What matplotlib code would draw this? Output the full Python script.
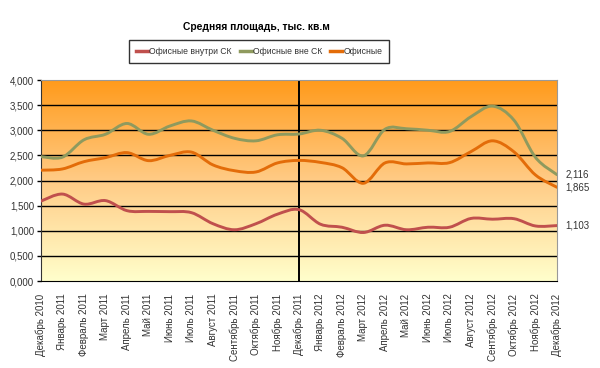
import numpy as np
import matplotlib
matplotlib.use("Agg")
import matplotlib.pyplot as plt
from matplotlib.path import Path
from matplotlib.patches import PathPatch
from matplotlib.lines import Line2D
from matplotlib.colors import LinearSegmentedColormap

plt.rcParams["font.family"] = ["Liberation Sans", "DejaVu Sans"]

months = [
    "Декабрь 2010", "Январь 2011", "Февраль 2011", "Март 2011", "Апрель 2011",
    "Май 2011", "Июнь 2011", "Июль 2011", "Август 2011", "Сентябрь 2011",
    "Октябрь 2011", "Ноябрь 2011", "Декабрь 2011", "Январь 2012", "Февраль 2012",
    "Март 2012", "Апрель 2012", "Май 2012", "Июнь 2012", "Июль 2012",
    "Август 2012", "Сентябрь 2012", "Октябрь 2012", "Ноябрь 2012", "Декабрь 2012",
]

inside_sk = [1590, 1730, 1530, 1600, 1400, 1385, 1380, 1360, 1140, 1020,
             1140, 1330, 1420, 1130, 1070, 965, 1110, 1020, 1070, 1070,
             1245, 1230, 1240, 1095, 1103]
outside_sk = [2475, 2465, 2810, 2920, 3135, 2920, 3085, 3185, 3000, 2840,
              2790, 2910, 2925, 3000, 2840, 2490, 3020, 3030, 3000, 2975,
              3270, 3480, 3200, 2460, 2116]
offices = [2205, 2230, 2375, 2455, 2555, 2395, 2500, 2565, 2310, 2195,
           2170, 2350, 2400, 2360, 2255, 1945, 2350, 2330, 2350, 2355,
           2575, 2790, 2570, 2110, 1865]

y_ticks = [0, 500, 1000, 1500, 2000, 2500, 3000, 3500, 4000]
y_labels = ["0,000", "0,500", "1,000", "1,500", "2,000", "2,500", "3,000", "3,500", "4,000"]

series = [
    ("Офисные внутри СК", inside_sk, "#C0504D", "1,103"),
    ("Офисные вне СК", outside_sk, "#8F9A5E", "2,116"),
    ("Офисные", offices, "#E36C09", "1,865"),
]


def smooth_path(x, y):
    # Excel-style smoothed line: bezier segments through the data points
    pts = np.column_stack([x, y]).astype(float)
    n = len(pts)
    verts = [pts[0]]
    codes = [Path.MOVETO]
    for i in range(n - 1):
        p0 = pts[i - 1] if i > 0 else pts[i]
        p3 = pts[i + 2] if i + 2 < n else pts[i + 1]
        verts += [pts[i] + (pts[i + 1] - p0) / 6,
                  pts[i + 1] - (p3 - pts[i]) / 6,
                  pts[i + 1]]
        codes += [Path.CURVE4] * 3
    return Path(verts, codes)


fig = plt.figure(figsize=(6, 3.68), dpi=100)
ax = fig.add_axes([0.0683, 0.2364, 0.8600, 0.5462])

cmap = LinearSegmentedColormap.from_list("bg", ["#FF9A1A", "#FFCB85", "#FFFFCC"])
ax.imshow(np.linspace(0, 1, 256).reshape(-1, 1), cmap=cmap, aspect="auto",
          extent=[0, 1, 0, 1], transform=ax.transAxes, zorder=0)

for v in y_ticks[1:-1]:
    ax.axhline(v, color="black", lw=1.0, zorder=1)
ax.axvline(12, color="black", lw=1.4, zorder=1)

x = np.arange(len(months))
handles = []
for name, vals, color, end_label in series:
    ax.add_patch(PathPatch(smooth_path(x, vals), facecolor="none", edgecolor=color,
                           lw=2.1, capstyle="round", joinstyle="round", zorder=3))
    handles.append(Line2D([], [], color=color, lw=2.5, label=name))
    ax.annotate(end_label, (x[-1], vals[-1]), xytext=(6, 0), textcoords="offset points",
                va="center", ha="left", fontsize=7, color="#333333", annotation_clip=False)

ax.set_xlim(0, len(months) - 1)
ax.set_ylim(0, 4000)

ax.set_yticks(y_ticks)
ax.set_yticklabels(y_labels)
ax.set_xticks(x)
ax.set_xticklabels(months, rotation=90)
ax.set_xticks(x[::3], minor=True)
ax.tick_params(axis="x", which="major", length=0, pad=9, labelsize=7, labelcolor="#333333")
ax.tick_params(axis="x", which="minor", length=4, width=1, direction="out")
ax.tick_params(axis="y", length=3, width=1, labelsize=7, labelcolor="#333333", pad=2)

ax.spines["left"].set_color("#333333")
ax.spines["bottom"].set_color("black")
ax.spines["top"].set_color("#999999")
ax.spines["right"].set_color("#999999")

fig.text(0.428, 0.926, "Средняя площадь, тыс. кв.м", ha="center", va="center",
         fontsize=7.4, fontweight="bold")
leg = fig.legend(handles=handles, loc="center", bbox_to_anchor=(0.432, 0.859), ncol=3,
                 fontsize=6.2, frameon=True, fancybox=False, handlelength=1.4,
                 handletextpad=0.15, columnspacing=0.9, borderpad=0.8)
leg.get_frame().set_edgecolor("black")
leg.get_frame().set_linewidth(1.0)
for t in leg.get_texts():
    t.set_color("#333333")

fig.savefig("out.png", dpi=100)
